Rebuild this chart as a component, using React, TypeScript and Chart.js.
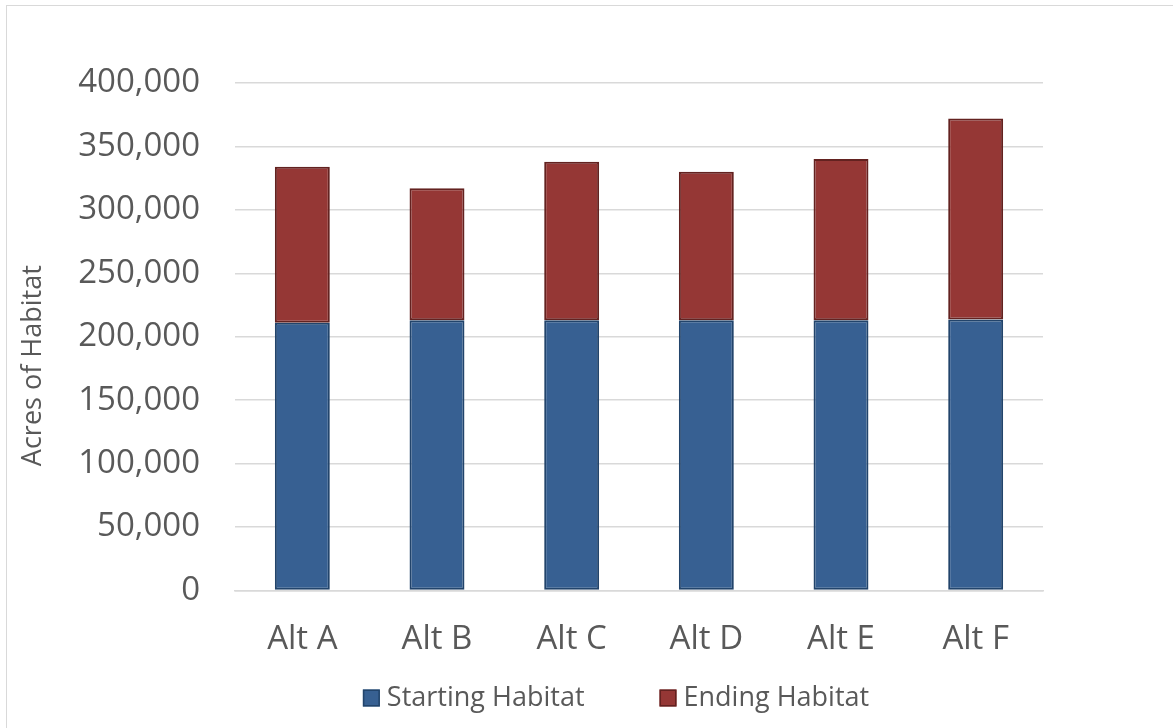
import React, { useEffect, useRef } from "react";
import { Chart, registerables } from "chart.js";

Chart.register(...registerables);

const categories = ["Alt A", "Alt B", "Alt C", "Alt D", "Alt E", "Alt F"];
const startingHabitat = [211000, 213000, 213000, 213000, 213000, 213500];
const endingHabitat = [123000, 104000, 125000, 117000, 127000, 158500];
const seriesNames = ["Starting Habitat", "Ending Habitat"];
const yMin = 0;
const yMax = 400000;
const yStep = 50000;
const yAxisTitle = "Acres of Habitat";

const FONT = "'Open Sans', 'Noto Sans', 'Liberation Sans', sans-serif";
const TEXT = "#595959";
const GRID = "#d9d9d9";

// Rotated y-axis title, a little below the middle of the plot area
const yTitlePlugin = {
  id: "yTitle",
  afterDraw(chart: any) {
    const { ctx, chartArea } = chart;
    const cy = (chartArea.top + chartArea.bottom) / 2 + 29;
    ctx.save();
    ctx.translate(33, cy);
    ctx.rotate(-Math.PI / 2);
    ctx.font = `27px ${FONT}`;
    ctx.fillStyle = TEXT;
    ctx.textAlign = "center";
    ctx.textBaseline = "middle";
    ctx.fillText(yAxisTitle, 0, 0);
    ctx.restore();
  },
};

// Legend row below the category axis
const legendPlugin = {
  id: "bottomLegend",
  afterDraw(chart: any) {
    const ctx = chart.ctx;
    ctx.save();
    ctx.font = `27px ${FONT}`;
    const box = 17;
    const gap = 7;
    const spacing = 75;
    const items = chart.data.datasets.map((ds: any) => ({
      label: ds.label,
      fill: ds.backgroundColor,
      stroke: ds.borderColor,
      w: ctx.measureText(ds.label).width,
    }));
    const total =
      items.reduce((s: number, it: any) => s + box + gap + it.w, 0) +
      spacing * (items.length - 1);
    let x = 616 - total / 2;
    const y = 698;
    ctx.textBaseline = "middle";
    ctx.textAlign = "left";
    for (const it of items) {
      ctx.fillStyle = it.fill;
      ctx.fillRect(x, y - box / 2, box, box);
      ctx.strokeStyle = it.stroke;
      ctx.lineWidth = 1.5;
      ctx.strokeRect(x + 0.75, y - box / 2 + 0.75, box - 1.5, box - 1.5);
      ctx.fillStyle = TEXT;
      ctx.fillText(it.label, x + box + gap, y);
      x += box + gap + it.w + spacing;
    }
    ctx.restore();
  },
};

export default function App() {
  const canvasRef = useRef<HTMLCanvasElement | null>(null);

  useEffect(() => {
    if (!canvasRef.current) return;
    const chart = new Chart(canvasRef.current, {
      type: "bar",
      data: {
        labels: categories,
        datasets: [
          {
            label: seriesNames[0],
            data: startingHabitat,
            backgroundColor: "#376092",
            borderColor: "#22446b",
            borderWidth: 2,
            borderSkipped: false,
            barPercentage: 0.408,
            categoryPercentage: 1,
          },
          {
            label: seriesNames[1],
            data: endingHabitat,
            backgroundColor: "#953735",
            borderColor: "#632220",
            borderWidth: 2,
            borderSkipped: false,
            barPercentage: 0.408,
            categoryPercentage: 1,
          },
        ],
      },
      options: {
        responsive: false,
        animation: false,
        layout: { padding: { left: 0, right: 130, top: 83, bottom: 40 } },
        plugins: {
          legend: { display: false },
          tooltip: { enabled: false },
          title: { display: false },
        },
        scales: {
          x: {
            stacked: true,
            grid: { display: false, drawTicks: false },
            border: { display: true, color: GRID, width: 1.5 },
            ticks: {
              padding: 29,
              color: TEXT,
              font: { family: FONT, size: 33 },
            },
          },
          y: {
            stacked: true,
            min: yMin,
            max: yMax,
            afterFit(scale: any) {
              scale.width = 235;
            },
            grid: { color: GRID, lineWidth: 1.5, drawTicks: false },
            border: { display: false },
            ticks: {
              stepSize: yStep,
              padding: 35,
              color: TEXT,
              font: { family: FONT, size: 33 },
              callback: (v: any) => Number(v).toLocaleString("en-US"),
            },
          },
        },
      },
      plugins: [yTitlePlugin, legendPlugin],
    });
    return () => chart.destroy();
  }, []);

  return (
    <div
      style={{
        position: "fixed",
        left: 0,
        top: 0,
        width: 1173,
        height: 728,
        overflow: "hidden",
        background: "#ffffff",
      }}
    >
      <div
        style={{
          position: "absolute",
          left: 6,
          top: 5,
          width: 1240,
          height: 800,
          border: "1px solid #d9d9d9",
          boxSizing: "border-box",
        }}
      />
      <canvas
        ref={canvasRef}
        width={1173}
        height={728}
        style={{ position: "absolute", left: 0, top: 0 }}
      />
    </div>
  );
}
